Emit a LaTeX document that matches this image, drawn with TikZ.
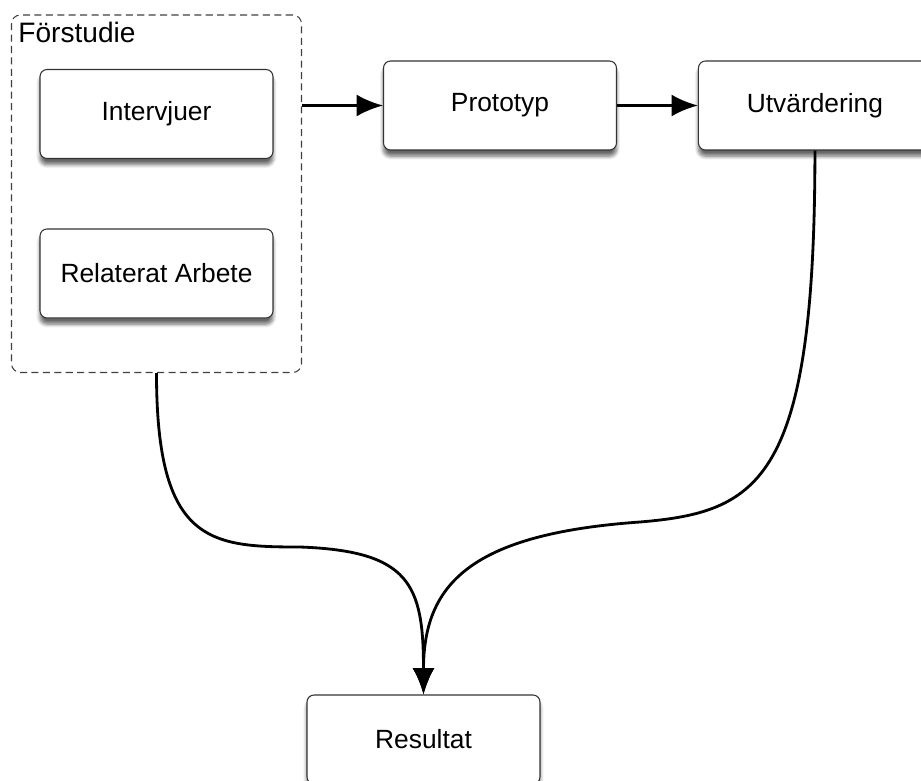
\documentclass[tikz,border=0pt]{standalone}
\usepackage{fontspec}
\setmainfont{Liberation Sans}
\usetikzlibrary{positioning,fit,arrows.meta,shadows.blur}

\tikzset{
    box/.style={draw=black!80, line width=0.6pt, rounded corners=4pt, fill=white,
        minimum width=4.66cm, minimum height=1.78cm,
        blur shadow={shadow xshift=0pt, shadow yshift=-3.5pt, shadow blur steps=6, shadow opacity=60}},
    group/.style={draw=black!75, line width=0.6pt, dash pattern=on 4pt off 2.5pt, rounded corners=5pt},
    flow/.style={line width=1.6pt, -{Latex[length=15pt,width=12.5pt]}}
}

\begin{document}
\begin{tikzpicture}[x=0.02cm, y=-0.02cm, node distance=3.19cm, font=\fontsize{15}{18}\selectfont]
    \useasboundingbox (0,0) rectangle (921,781);

    % Nodes
    \node (intervjuer) [box] at (156.5,114) {Intervjuer};
    \node (relaterat) [box, below of=intervjuer] {Relaterat Arbete};
    \node (forstudie) [group, fit=(intervjuer)(relaterat), inner xsep=0.56cm, inner ysep=1.08cm] {};
    \node (forstudielabel) [anchor=north west, inner sep=4pt, font=\fontsize{16}{19}\selectfont] at (forstudie.north west) {Förstudie};
    \node (prototyp) [box] at (500,105.5) {Prototyp};
    \node (utvardering) [box, right of=prototyp, node distance=6.3cm] {Utvärdering};
    \node (resultat) [box] at (423.5,739.5) {Resultat};

    % Arrows
    \draw[flow] (forstudie.east |- prototyp) -- (prototyp);
    \draw[flow] (prototyp) -- (utvardering);
    \draw[flow] (forstudie.south) .. controls +(0,170) and +(-90,0) .. (300,547)
        .. controls +(110,4) and +(0,-110) .. (resultat.north);
    \draw[flow] (utvardering.south) .. controls +(0,330) and +(120,-10) .. (640,522)
        .. controls +(-170,12) and +(0,-110) .. (resultat.north);
\end{tikzpicture}
\end{document}
